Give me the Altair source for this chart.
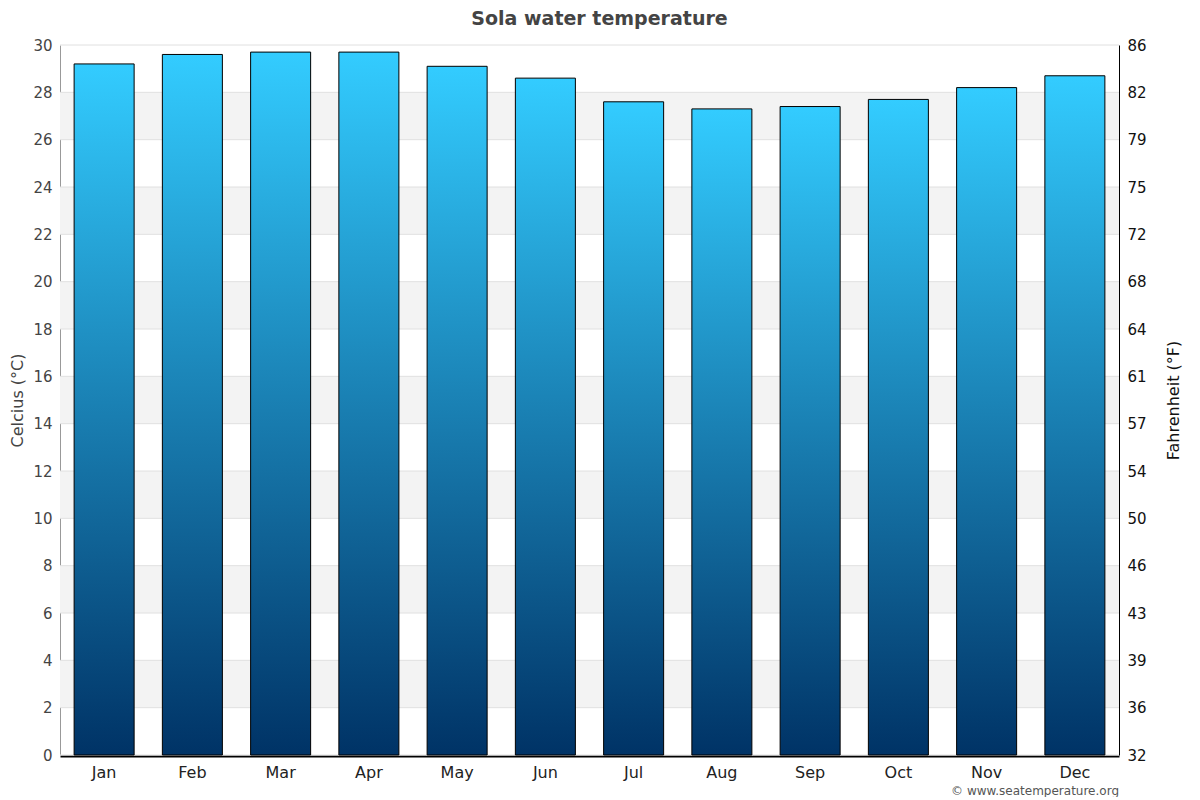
import pandas as pd
import altair as alt

months = ["Jan", "Feb", "Mar", "Apr", "May", "Jun",
          "Jul", "Aug", "Sep", "Oct", "Nov", "Dec"]
celsius = [29.2, 29.6, 29.7, 29.7, 29.1, 28.6,
           27.6, 27.3, 27.4, 27.7, 28.2, 28.7]

# tick values on the celsius axis, and the lower edges of the shaded bands
tick_values = [0, 2, 4, 6, 8, 10, 12, 14, 16, 18, 20, 22, 24, 26, 28, 30]
band_lows = [2, 6, 10, 14, 18, 22, 26]

FONT = "DejaVu Sans"
W, H = 1059, 710

df = pd.DataFrame({"month": months, "celsius": celsius})
bands = pd.DataFrame({"lo": band_lows, "hi": [b + 2 for b in band_lows]})
grid = pd.DataFrame({"v": tick_values})
one = pd.DataFrame({"k": [0]})

yscale = alt.Scale(domain=[0, 30], nice=False, zero=True)
xenc = alt.X("month:N", sort=months, title=None,
             scale=alt.Scale(paddingInner=0.32, paddingOuter=0.16),
             axis=alt.Axis(labelFont=FONT, labelFontSize=16, labelColor="#222",
                           labelAngle=0, labelPadding=8, ticks=False,
                           domainColor="#000", domainWidth=2, offset=1))

band_layer = alt.Chart(bands).mark_rect(color="#f3f3f3").encode(
    y=alt.Y("lo:Q", scale=yscale, axis=None),
    y2="hi:Q",
)

grid_layer = alt.Chart(grid).mark_rule(color="#e0e0e0", strokeWidth=1).encode(
    y=alt.Y("v:Q", scale=yscale, axis=None),
)

gradient = alt.Gradient(
    gradient="linear",
    stops=[alt.GradientStop(color="#003366", offset=0),
           alt.GradientStop(color="#33ccff", offset=1)],
    x1=1, x2=1, y1=1, y2=0,
)

bars = alt.Chart(df).mark_bar(color=gradient, stroke="#000", strokeWidth=1).encode(
    x=xenc,
    y=alt.Y("celsius:Q", scale=yscale, title="Celcius (°C)",
            axis=alt.Axis(values=tick_values, grid=False, ticks=False,
                          labelFont=FONT, labelFontSize=15, labelColor="#444",
                          labelPadding=8, domainColor="#999",
                          titleFont=FONT, titleFontSize=16, titleFontWeight="normal",
                          titleColor="#444", titlePadding=7)),
    tooltip=["month", "celsius"],
)

right_axis = alt.Chart(df).mark_bar(opacity=0).encode(
    x=xenc,
    y=alt.Y("celsius:Q", scale=yscale, title="Fahrenheit (°F)",
            axis=alt.Axis(orient="right", values=tick_values, grid=False, ticks=False,
                          labelExpr="round(datum.value * 9 / 5 + 32)",
                          labelFont=FONT, labelFontSize=15, labelColor="#111",
                          labelPadding=8, domainColor="#000",
                          titleFont=FONT, titleFontSize=16, titleFontWeight="normal",
                          titleColor="#111", titleAngle=270, titlePadding=35)),
)

title = alt.Chart(one).mark_text(
    text="Sola water temperature", align="center", baseline="alphabetic",
    font=FONT, fontSize=19, fontWeight="bold", color="#444",
).encode(x=alt.value(W / 2 + 10), y=alt.value(-20))

credit = alt.Chart(one).mark_text(
    text="© www.seatemperature.org", align="right", baseline="alphabetic",
    font=FONT, fontSize=12, color="#555",
).encode(x=alt.value(W), y=alt.value(H + 40))

chart = alt.layer(band_layer, grid_layer, bars, right_axis, title, credit).resolve_scale(
    y="independent"
).properties(
    width=W,
    height=H,
    autosize=alt.AutoSizeParams(type="none"),
    padding={"left": 52, "top": 37, "right": 73, "bottom": 42},
).configure_view(stroke=None)

chart.save("out.html", embed_options={"renderer": "svg", "actions": False})
